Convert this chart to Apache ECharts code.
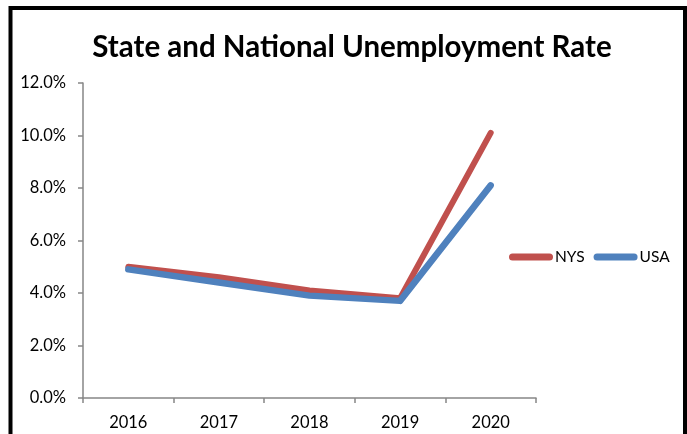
<!DOCTYPE html>
<html>
<head>
<meta charset="utf-8">
<script src="https://cdn.jsdelivr.net/npm/echarts@6/dist/echarts.min.js"></script>
<style>
html,body{margin:0;padding:0;background:#fff;}
#chart{width:687px;height:434px;}
</style>
</head>
<body>
<div id="chart"></div>
<script>
var categories = ['2016', '2017', '2018', '2019', '2020'];
var nysValues = [5.0, 4.6, 4.1, 3.8, 10.1];
var usaValues = [4.9, 4.4, 3.9, 3.7, 8.1];
var yTicks = [0, 2, 4, 6, 8, 10, 12];

var chart = echarts.init(document.getElementById('chart'));
var font = 'Lato, "Open Sans", sans-serif';
var capsule = 'path://M3.5,0 H40.5 A3.5,3.5 0 0 1 40.5,7 H3.5 A3.5,3.5 0 0 1 3.5,0 Z';

chart.setOption({
  backgroundColor: '#ffffff',
  animation: false,
  title: {
    text: 'State and National Unemployment Rate',
    left: 347,
    top: 27,
    textAlign: 'center',
    textStyle: { fontFamily: font, fontWeight: 'bold', fontSize: 29.5, color: '#000' }
  },
  legend: {
    left: 504,
    top: 244,
    itemWidth: 44,
    itemHeight: 7,
    itemGap: 9,
    icon: capsule,
    textStyle: { fontFamily: font, fontSize: 15.5, color: '#000', padding: [0, 0, 0, -3] },
    data: ['NYS', 'USA']
  },
  grid: { left: 83, right: 151, top: 83, bottom: 36, containLabel: false },
  xAxis: {
    type: 'category',
    data: categories,
    boundaryGap: true,
    axisLine: { lineStyle: { color: '#868686', width: 1.5 } },
    axisTick: { show: true, length: 5, inside: false, lineStyle: { color: '#868686', width: 1.5 } },
    axisLabel: { fontFamily: font, fontSize: 16.5, color: '#000', margin: 16 },
    splitLine: { show: false }
  },
  yAxis: {
    type: 'value',
    min: yTicks[0],
    max: yTicks[yTicks.length - 1],
    interval: yTicks[1] - yTicks[0],
    axisLine: { show: true, lineStyle: { color: '#868686', width: 1.5 } },
    axisTick: { show: true, length: 5, lineStyle: { color: '#868686', width: 1.5 } },
    axisLabel: {
      fontFamily: font, fontSize: 16.5, color: '#000', margin: 17,
      formatter: function (v) { return v.toFixed(1) + '%'; }
    },
    splitLine: { show: false }
  },
  series: [
    {
      name: 'NYS', type: 'line', data: nysValues,
      showSymbol: false, symbol: 'none',
      itemStyle: { color: '#C0504D' },
      lineStyle: { color: '#C0504D', width: 6, cap: 'round', join: 'round' }
    },
    {
      name: 'USA', type: 'line', data: usaValues,
      showSymbol: false, symbol: 'none',
      itemStyle: { color: '#4F81BD' },
      lineStyle: { color: '#4F81BD', width: 6.5, cap: 'round', join: 'round' }
    }
  ],
  graphic: [
    {
      type: 'rect',
      shape: { x: 10.5, y: 8, width: 674.5, height: 480 },
      style: { fill: null, stroke: '#000', lineWidth: 4 },
      silent: true
    }
  ]
});
</script>
</body>
</html>
